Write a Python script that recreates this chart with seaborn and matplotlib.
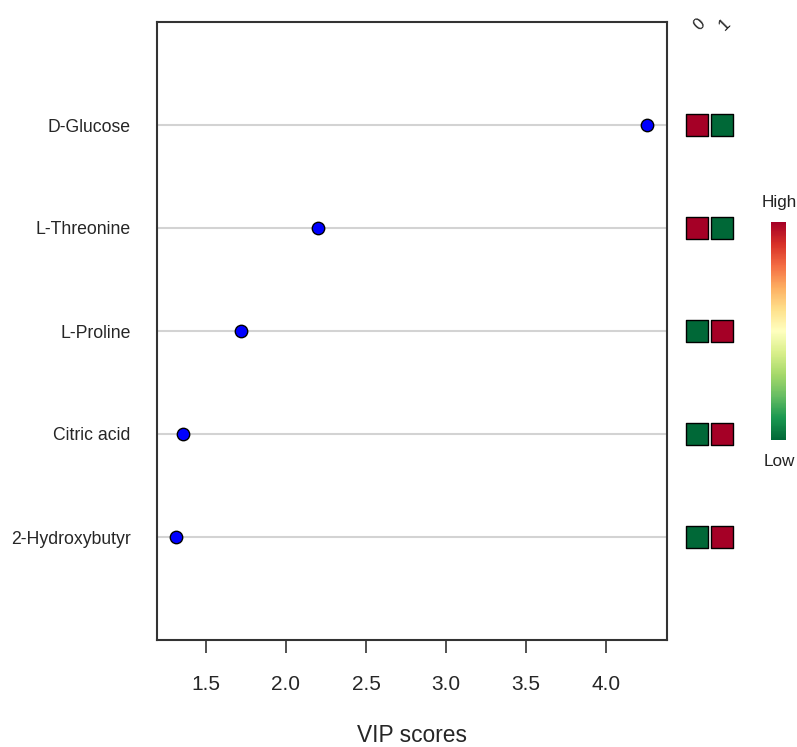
import pandas as pd
import matplotlib
import matplotlib.pyplot as plt
import seaborn as sns

features = ['D-Glucose', 'L-Threonine', 'L-Proline', 'Citric acid', '2-Hydroxybutyr']
vip = [4.255, 2.20, 1.72, 1.355, 1.31]
groups = ['0', '1']
# relative level per group: 1 = high, 0 = low
level_0 = [1, 1, 0, 0, 0]
level_1 = [0, 0, 1, 1, 1]

sns.set_style('white')
plt.rcParams['font.family'] = ['Liberation Sans', 'DejaVu Sans']

n = len(features)
ypos = list(range(n, 0, -1))
df = pd.DataFrame({'feature': features, 'vip': vip, 'y': ypos})

fig = plt.figure(figsize=(7.97, 7.47), dpi=100)
ax = fig.add_axes([157/797, 1 - 640/747, 510/797, 618/747])

for y in ypos:
    ax.axhline(y, color='#d3d3d3', lw=1.5, zorder=0)
sns.scatterplot(data=df, x='vip', y='y', ax=ax, color='blue', edgecolor='black',
                linewidth=1, s=80, zorder=3, legend=False)
ax.set_xlim(1.194, 4.381)
ax.set_ylim(0, 6)
ax.set_xticks([1.5, 2.0, 2.5, 3.0, 3.5, 4.0])
ax.set_xticklabels(['1.5', '2.0', '2.5', '3.0', '3.5', '4.0'], fontsize=15)
ax.set_yticks(ypos)
ax.set_yticklabels(features, fontsize=12.7)
ax.tick_params(axis='x', bottom=True, direction='out', length=9.5, width=1.2, pad=16, color='#333333')
ax.tick_params(axis='y', left=False, length=0, pad=19)
ax.set_xlabel('VIP scores', fontsize=16.4, labelpad=21)
ax.set_ylabel('')
for sp in ax.spines.values():
    sp.set_color('#333333')
    sp.set_linewidth(1.5)

# group level squares
cmap = matplotlib.colormaps['RdYlGn_r']
cells = pd.DataFrame({
    'col': [0] * n + [1] * n,
    'y': ypos + ypos,
    'level': level_0 + level_1,
})
ax2 = fig.add_axes([672/797, 1 - 640/747, 75/797, 618/747])
sns.scatterplot(data=cells, x='col', y='y', ax=ax2, hue='level', palette={1: cmap(1.0), 0: cmap(0.0)},
                marker='s', s=240, edgecolor='black', linewidth=1, legend=False)
ax2.set_xlim(-1, 2)
ax2.set_ylim(0, 6)
ax2.axis('off')
for i, g in enumerate(groups):
    ax2.text(i + 0.1, 5.98, g, rotation=45, ha='center', va='center', fontsize=12, color='#222222')

# color key
cax = fig.add_axes([771/797, 1 - 440/747, 15/797, 218/747])
sm = matplotlib.cm.ScalarMappable(cmap=cmap, norm=matplotlib.colors.Normalize(0, 1))
cb = fig.colorbar(sm, cax=cax)
cb.outline.set_visible(False)
cb.set_ticks([])
fig.text(779/797, 1 - 202/747, 'High', ha='center', va='center', fontsize=12.3, color='#222222')
fig.text(779/797, 1 - 461/747, 'Low', ha='center', va='center', fontsize=12.3, color='#222222')

fig.savefig('out.png', dpi=100)
